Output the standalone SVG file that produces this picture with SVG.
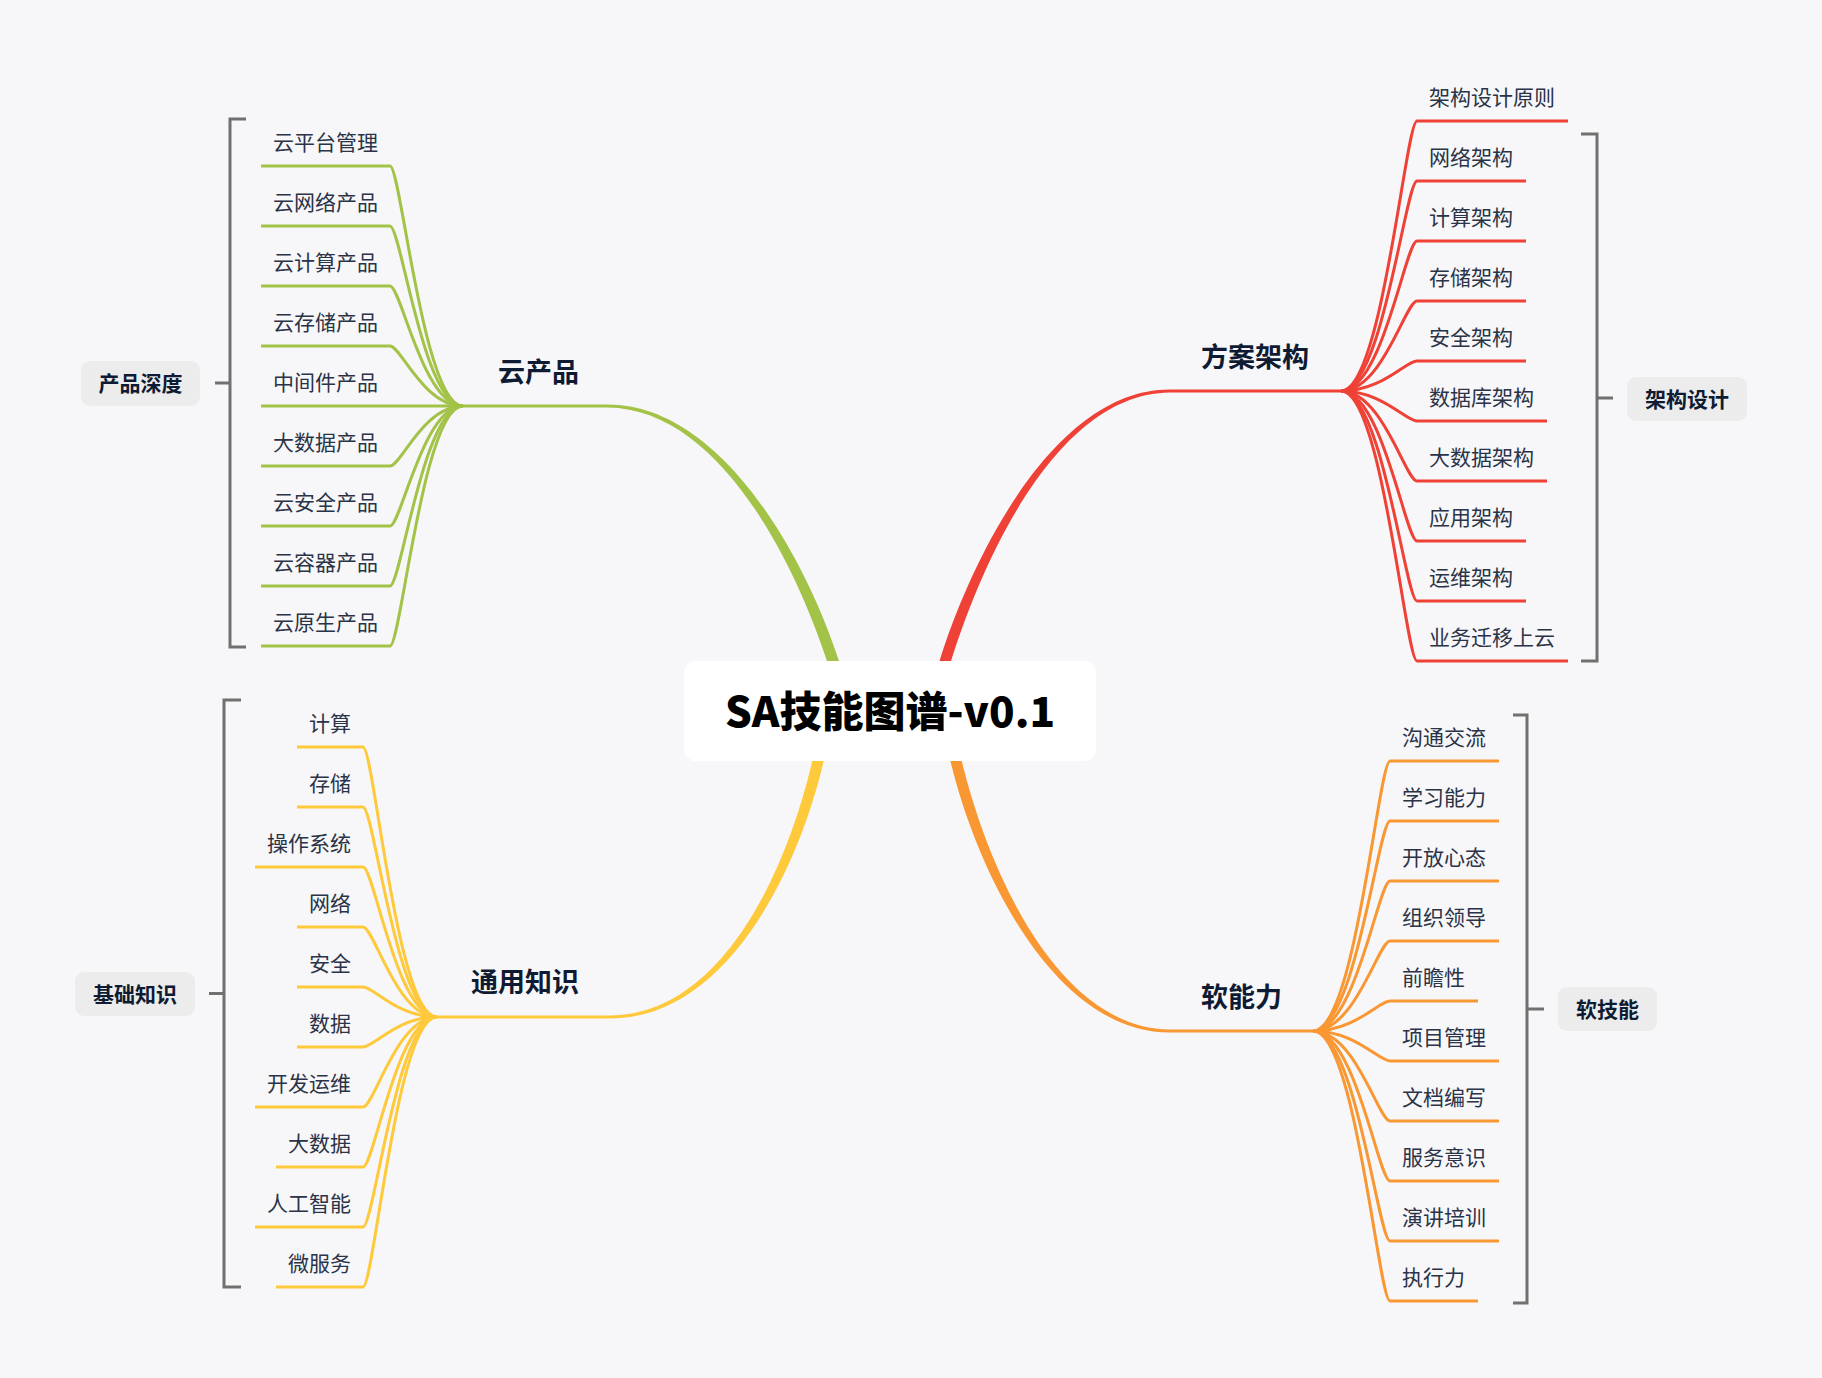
<svg xmlns="http://www.w3.org/2000/svg" width="1822" height="1378" viewBox="0 0 1822 1378">
<style>
.bg{fill:#f7f7f9}
.leaf{font-family:"Noto Sans CJK SC","Noto Sans",sans-serif;font-size:21px;fill:#2a3347}
.lbl{font-family:"Noto Sans CJK SC","Noto Sans",sans-serif;font-size:27px;font-weight:700;fill:#0f1b33}
.btxt{font-family:"Noto Sans CJK SC","Noto Sans",sans-serif;font-size:21px;font-weight:700;fill:#0f1b33;text-anchor:middle}
.title{font-family:"Noto Sans CJK SC","Noto Sans",sans-serif;font-size:42px;font-weight:900;fill:#000;text-anchor:middle}
.box{fill:#ececec}
.brk{fill:none;stroke:#707070;stroke-width:3}
.g{fill:none;stroke:#a2c347;stroke-width:3}
.r{fill:none;stroke:#ef4136;stroke-width:3}
.y{fill:none;stroke:#fec93b;stroke-width:3}
.o{fill:none;stroke:#f99733;stroke-width:3}
</style>
<rect class="bg" x="0" y="0" width="1822" height="1378"/>
<g id="connectors">
  <path fill="#a2c347" d="M463 404.5 L607 404.5 C721 404 805 557 838.5 659.5 L843 674 L832 677 L827.5 662.5 C795 563 719 408 607 407.5 L463 407.5 Z"/>
  <path fill="#ef4136" d="M1342 389.5 L1170 389.5 C1056 389 973 554 939.7 660.4 L935.2 674.7 L945.8 677.9 L950.3 663.6 C983 558 1058 393 1170 392.5 L1342 392.5 Z"/>
  <path fill="#fec93b" d="M437 1018.5 L610 1018.5 C721 1019 795 882 823.4 762.3 L826.8 747.7 L816 745.1 L812.6 759.7 C785 878 719 1015 610 1015.5 L437 1015.5 Z"/>
  <path fill="#f99733" d="M1313 1032.5 L1170 1032.5 C1059 1033 980 882 950.7 762.3 L947.1 747.7 L957.8 745.1 L961.4 759.7 C990 878 1061 1029 1170 1029.5 L1313 1029.5 Z"/>
  <path class="g" d="M261 166 H390 C401 166 423.2 406 463 406"/>
  <path class="g" d="M261 226 H390 C401 226 423.2 406 463 406"/>
  <path class="g" d="M261 286 H390 C401 286 423.2 406 463 406"/>
  <path class="g" d="M261 346 H390 C401 346 423.2 406 463 406"/>
  <path class="g" d="M261 406 H463"/>
  <path class="g" d="M261 466 H390 C401 466 423.2 406 463 406"/>
  <path class="g" d="M261 526 H390 C401 526 423.2 406 463 406"/>
  <path class="g" d="M261 586 H390 C401 586 423.2 406 463 406"/>
  <path class="g" d="M261 646 H390 C401 646 423.2 406 463 406"/>
  <path class="r" d="M1341 391 C1382.4 391 1405.6 121 1417 121 H1568"/>
  <path class="r" d="M1341 391 C1382.4 391 1405.6 181 1417 181 H1526"/>
  <path class="r" d="M1341 391 C1382.4 391 1405.6 241 1417 241 H1526"/>
  <path class="r" d="M1341 391 C1382.4 391 1405.6 301 1417 301 H1526"/>
  <path class="r" d="M1341 391 C1382.4 391 1405.6 361 1417 361 H1526"/>
  <path class="r" d="M1341 391 C1382.4 391 1405.6 421 1417 421 H1547"/>
  <path class="r" d="M1341 391 C1382.4 391 1405.6 481 1417 481 H1547"/>
  <path class="r" d="M1341 391 C1382.4 391 1405.6 541 1417 541 H1526"/>
  <path class="r" d="M1341 391 C1382.4 391 1405.6 601 1417 601 H1526"/>
  <path class="r" d="M1341 391 C1382.4 391 1405.6 661 1417 661 H1568"/>
  <path class="y" d="M297 747 H363 C374.1 747 396.7 1017 437 1017"/>
  <path class="y" d="M297 807 H363 C374.1 807 396.7 1017 437 1017"/>
  <path class="y" d="M255 867 H363 C374.1 867 396.7 1017 437 1017"/>
  <path class="y" d="M297 927 H363 C374.1 927 396.7 1017 437 1017"/>
  <path class="y" d="M297 987 H363 C374.1 987 396.7 1017 437 1017"/>
  <path class="y" d="M297 1047 H363 C374.1 1047 396.7 1017 437 1017"/>
  <path class="y" d="M255 1107 H363 C374.1 1107 396.7 1017 437 1017"/>
  <path class="y" d="M276 1167 H363 C374.1 1167 396.7 1017 437 1017"/>
  <path class="y" d="M255 1227 H363 C374.1 1227 396.7 1017 437 1017"/>
  <path class="y" d="M276 1287 H363 C374.1 1287 396.7 1017 437 1017"/>
  <path class="o" d="M1313 1031 C1355.5 1031 1378.5 761 1390 761 H1499"/>
  <path class="o" d="M1313 1031 C1355.5 1031 1378.5 821 1390 821 H1499"/>
  <path class="o" d="M1313 1031 C1355.5 1031 1378.5 881 1390 881 H1499"/>
  <path class="o" d="M1313 1031 C1355.5 1031 1378.5 941 1390 941 H1499"/>
  <path class="o" d="M1313 1031 C1355.5 1031 1378.5 1001 1390 1001 H1478"/>
  <path class="o" d="M1313 1031 C1355.5 1031 1378.5 1061 1390 1061 H1499"/>
  <path class="o" d="M1313 1031 C1355.5 1031 1378.5 1121 1390 1121 H1499"/>
  <path class="o" d="M1313 1031 C1355.5 1031 1378.5 1181 1390 1181 H1499"/>
  <path class="o" d="M1313 1031 C1355.5 1031 1378.5 1241 1390 1241 H1499"/>
  <path class="o" d="M1313 1031 C1355.5 1031 1378.5 1301 1390 1301 H1478"/>
  <path class="brk" d="M246 119 H230 V647 H246 M215 383 H230"/>
  <path class="brk" d="M1581 134 H1597 V661 H1581 M1597 398 H1613"/>
  <path class="brk" d="M241 700 H224 V1287 H241 M209 993.5 H224"/>
  <path class="brk" d="M1513 715 H1527 V1303 H1513 M1527 1009 H1544"/>
</g>
<g id="center">
  <rect x="684" y="661" width="412" height="100" rx="12" fill="#ffffff"/>
  <text class="title" x="890" y="727">SA技能图谱-v0.1</text>
</g>
<g id="branch-cloud">
  <text class="lbl" x="498" y="382">云产品</text>
  <text class="leaf" x="273" y="150">云平台管理</text>
  <text class="leaf" x="273" y="210">云网络产品</text>
  <text class="leaf" x="273" y="270">云计算产品</text>
  <text class="leaf" x="273" y="330">云存储产品</text>
  <text class="leaf" x="273" y="390">中间件产品</text>
  <text class="leaf" x="273" y="450">大数据产品</text>
  <text class="leaf" x="273" y="510">云安全产品</text>
  <text class="leaf" x="273" y="570">云容器产品</text>
  <text class="leaf" x="273" y="630">云原生产品</text>
</g>
<g id="summary-product">
  <rect class="box" x="81" y="361" width="119" height="45" rx="9"/>
  <text class="btxt" x="140.5" y="391">产品深度</text>
</g>
<g id="branch-arch">
  <text class="lbl" x="1201" y="367">方案架构</text>
  <text class="leaf" x="1429" y="105">架构设计原则</text>
  <text class="leaf" x="1429" y="165">网络架构</text>
  <text class="leaf" x="1429" y="225">计算架构</text>
  <text class="leaf" x="1429" y="285">存储架构</text>
  <text class="leaf" x="1429" y="345">安全架构</text>
  <text class="leaf" x="1429" y="405">数据库架构</text>
  <text class="leaf" x="1429" y="465">大数据架构</text>
  <text class="leaf" x="1429" y="525">应用架构</text>
  <text class="leaf" x="1429" y="585">运维架构</text>
  <text class="leaf" x="1429" y="645">业务迁移上云</text>
</g>
<g id="summary-arch">
  <rect class="box" x="1627" y="377" width="120" height="44" rx="9"/>
  <text class="btxt" x="1687" y="406.5">架构设计</text>
</g>
<g id="branch-general">
  <text class="lbl" x="471" y="992">通用知识</text>
  <g style="text-anchor:end">
  <text class="leaf" x="351" y="731">计算</text>
  <text class="leaf" x="351" y="791">存储</text>
  <text class="leaf" x="351" y="851">操作系统</text>
  <text class="leaf" x="351" y="911">网络</text>
  <text class="leaf" x="351" y="971">安全</text>
  <text class="leaf" x="351" y="1031">数据</text>
  <text class="leaf" x="351" y="1091">开发运维</text>
  <text class="leaf" x="351" y="1151">大数据</text>
  <text class="leaf" x="351" y="1211">人工智能</text>
  <text class="leaf" x="351" y="1271">微服务</text>
  </g>
</g>
<g id="summary-basic">
  <rect class="box" x="75" y="972" width="120" height="44" rx="9"/>
  <text class="btxt" x="135" y="1001.5">基础知识</text>
</g>
<g id="branch-soft">
  <text class="lbl" x="1201" y="1007">软能力</text>
  <text class="leaf" x="1402" y="745">沟通交流</text>
  <text class="leaf" x="1402" y="805">学习能力</text>
  <text class="leaf" x="1402" y="865">开放心态</text>
  <text class="leaf" x="1402" y="925">组织领导</text>
  <text class="leaf" x="1402" y="985">前瞻性</text>
  <text class="leaf" x="1402" y="1045">项目管理</text>
  <text class="leaf" x="1402" y="1105">文档编写</text>
  <text class="leaf" x="1402" y="1165">服务意识</text>
  <text class="leaf" x="1402" y="1225">演讲培训</text>
  <text class="leaf" x="1402" y="1285">执行力</text>
</g>
<g id="summary-soft">
  <rect class="box" x="1558" y="987" width="99" height="44" rx="9"/>
  <text class="btxt" x="1607.5" y="1016.5">软技能</text>
</g>
</svg>
